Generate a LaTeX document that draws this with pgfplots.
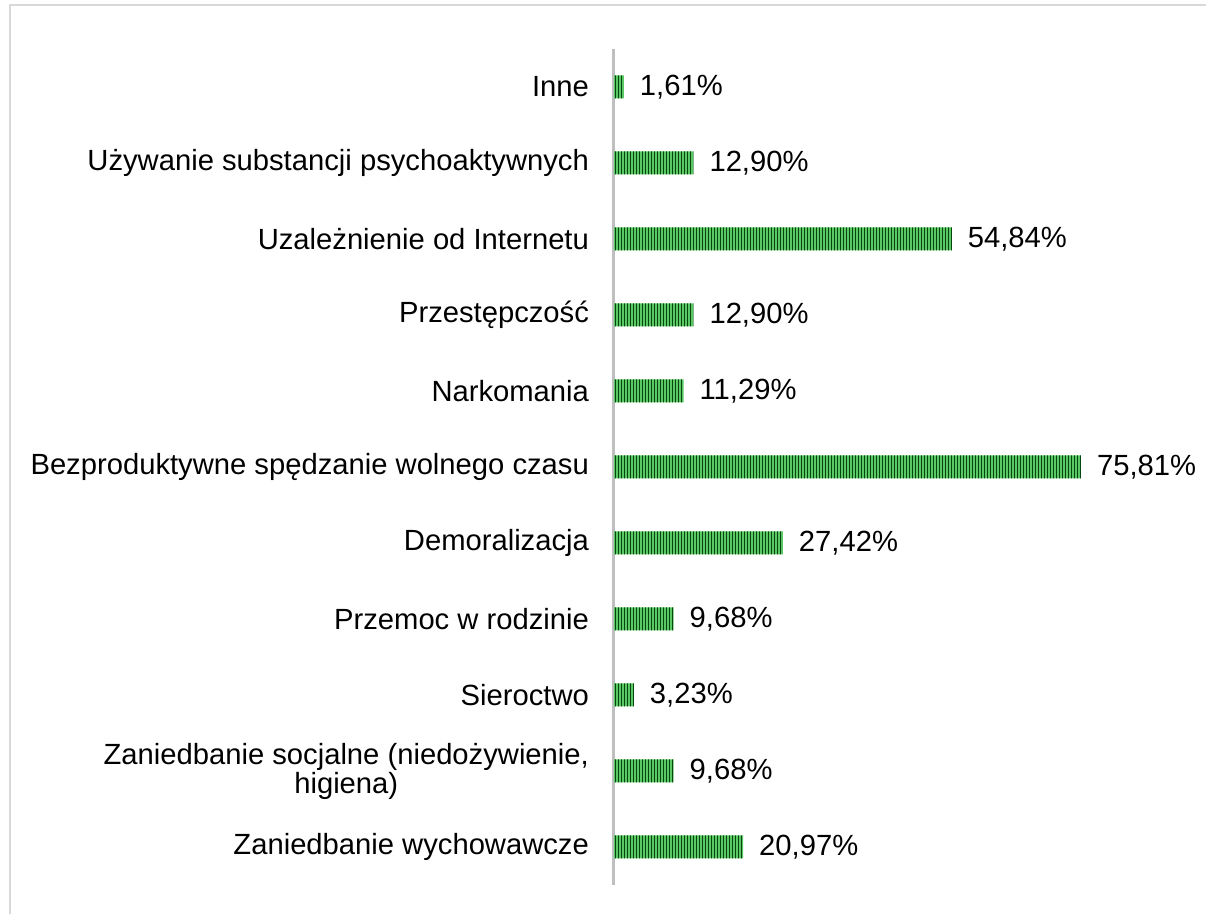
\documentclass[border=0pt]{standalone}
\usepackage{fontspec}
\setmainfont{Liberation Sans}
\usepackage{pgfplots}
\pgfplotsset{compat=1.18}
\usetikzlibrary{patterns.meta}
\definecolor{barlight}{RGB}{90,200,100}
\definecolor{bardark}{RGB}{8,70,15}
\definecolor{axgray}{RGB}{191,191,191}
\definecolor{framegray}{RGB}{217,217,217}
\tikzdeclarepattern{name=vstripes,type=uncolored,
  bottom left={(0pt,0pt)},top right={(1.5pt,1pt)},tile size={(1.5pt,1pt)},
  code={\draw[line width=0.6pt] (0.3pt,-0.5pt) -- (0.3pt,1.5pt);}}
\begin{document}
\begin{tikzpicture}
\useasboundingbox (0,0) rectangle (603pt,457pt);
\draw[framegray,line width=1pt] (5pt,0pt) -- (5pt,454.5pt) -- (603pt,454.5pt);
\begin{axis}[
  at={(307pt,14.5pt)}, anchor=south west,
  x=3.08pt, y=38pt,
  xmin=0, xmax=80, ymin=-0.5, ymax=10.5,
  clip=false,
  hide x axis,
  axis y line*=left,
  y axis line style={axgray, line width=1.5pt},
  ytick={0,...,10},
  yticklabels={Zaniedbanie wychowawcze,{Zaniedbanie socjalne (niedożywienie,\\higiena)},Sieroctwo,Przemoc w rodzinie,Demoralizacja,Bezproduktywne spędzanie wolnego czasu,Narkomania,Przestępczość,Uzależnienie od Internetu,Używanie substancji psychoaktywnych,Inne},
  major tick length=0pt,
  yticklabel style={font=\fontsize{14.6pt}{14.5pt}\selectfont, align=center, xshift=-9pt},
  xbar, bar width=11.5pt,
  point meta=x,
  nodes near coords={\pgfmathprintnumber[fixed,fixed zerofill,precision=2,use comma,assume math mode=true]{\pgfplotspointmeta}\%},
  every node near coord/.append style={font=\fontsize{14.6pt}{16.5pt}\selectfont, anchor=west, xshift=4.5pt, black},
]
\addplot[draw=none, fill=barlight, postaction={pattern=vstripes, pattern color=bardark}] coordinates {
  (20.97,0) (9.68,1) (3.23,2) (9.68,3) (27.42,4) (75.81,5) (11.29,6) (12.90,7) (54.84,8) (12.90,9) (1.61,10)
};
\end{axis}
\end{tikzpicture}
\end{document}
